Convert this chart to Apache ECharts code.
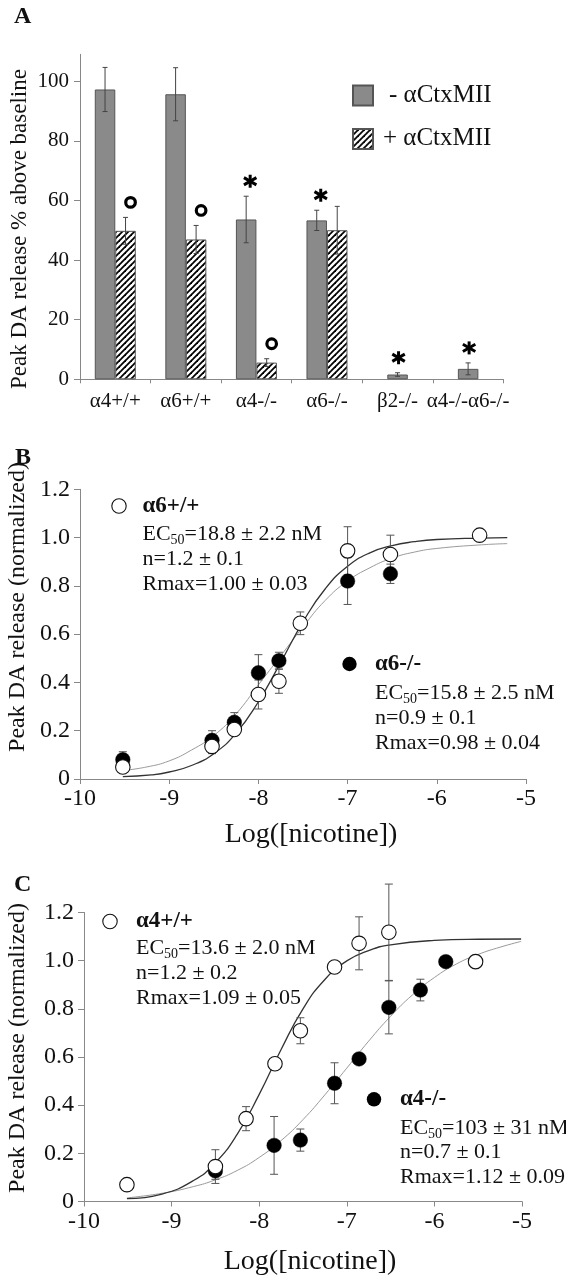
<!DOCTYPE html>
<html><head><meta charset="utf-8">
<script src="https://cdn.jsdelivr.net/npm/echarts@6/dist/echarts.min.js"></script>
<style>html,body{margin:0;padding:0;background:#fff}#c{width:566px;height:1280px}</style>
</head><body><div id="c"></div>
<script>
// ---------- Panel A data ----------
const categories = ['α4+/+', 'α6+/+', 'α4-/-', 'α6-/-', 'β2-/-', 'α4-/-α6-/-'];
const minusCtx = [97.2, 95.6, 53.6, 53.3, 1.6, 3.5];
const minusCtxErr = [7.4, 8.9, 7.8, 3.4, 0.6, 2.0];
const plusCtx = [49.8, 46.9, 5.6, 50.0, null, null];
const plusCtxErr = [4.5, 4.7, 1.3, 8.0, null, null];
const minusMarks = ['', '', '*', '*', '*', '*'];
const plusMarks = ['o', 'o', 'o', '', '', ''];
const yTicksA = [0, 20, 40, 60, 80, 100];
const seriesNamesA = ['- αCtxMII', '+ αCtxMII'];

// ---------- Panel B data (log[nicotine]) ----------
const bWtX = [-9.52, -8.52, -8.27, -8.0, -7.77, -7.53, -7.0, -6.52, -5.52];
const bWtY = [0.05, 0.135, 0.205, 0.35, 0.405, 0.645, 0.945, 0.93, 1.01];
const bWtErr = [0.01, 0.03, 0.01, 0.06, 0.05, 0.047, 0.10, 0.08, 0];
const bKoX = [-9.52, -8.52, -8.27, -8.0, -7.77, -7.0, -6.52];
const bKoY = [0.08, 0.16, 0.235, 0.44, 0.49, 0.82, 0.85];
const bKoErr = [0.033, 0.04, 0.04, 0.075, 0.035, 0.097, 0.04];
const bWtFitX = [-9.52, -9.2, -9.0, -8.75, -8.5, -8.25, -8.0, -7.75, -7.5, -7.25, -7.0, -6.75, -6.5, -6.25, -6.0, -5.5, -5.21];
const bWtFitY = [0.01, 0.017, 0.029, 0.056, 0.105, 0.19, 0.32, 0.483, 0.651, 0.788, 0.881, 0.937, 0.967, 0.983, 0.992, 0.998, 1.0];
const bKoFitX = [-9.52, -9.25, -9.0, -8.75, -8.5, -8.25, -8.0, -7.75, -7.5, -7.25, -7.0, -6.75, -6.5, -6.25, -6.0, -5.5, -5.21];
const bKoFitY = [0.035, 0.05, 0.075, 0.12, 0.18, 0.27, 0.39, 0.51, 0.63, 0.74, 0.82, 0.875, 0.915, 0.94, 0.955, 0.97, 0.975];

// ---------- Panel C data ----------
const cWtX = [-9.51, -8.5, -8.15, -7.82, -7.53, -7.14, -6.86, -6.52, -5.53];
const cWtY = [0.07, 0.145, 0.344, 0.572, 0.709, 0.974, 1.072, 1.118, 0.996];
const cWtErr = [0, 0.07, 0.05, 0, 0.054, 0, 0.11, 0.2, 0];
const cKoX = [-8.5, -7.83, -7.53, -7.14, -6.86, -6.52, -6.16, -5.87];
const cKoY = [0.127, 0.233, 0.255, 0.491, 0.592, 0.806, 0.878, 0.996];
const cKoErr = [0.035, 0.12, 0.046, 0.085, 0, 0.11, 0.045, 0];
const cWtFitX = [-9.51, -9.11, -8.75, -8.5, -8.25, -8.0, -7.75, -7.5, -7.25, -7.0, -6.75, -6.5, -6.0, -5.5, -5.01];
const cWtFitY = [0.012, 0.031, 0.087, 0.161, 0.28, 0.445, 0.631, 0.80, 0.922, 0.999, 1.042, 1.066, 1.084, 1.089, 1.09];
const cKoFitX = [-9.51, -9.11, -8.75, -8.5, -8.25, -8.0, -7.75, -7.5, -7.25, -7.0, -6.75, -6.5, -6.25, -6.0, -5.75, -5.5, -5.25, -5.01];
const cKoFitY = [0.015, 0.034, 0.062, 0.09, 0.129, 0.183, 0.253, 0.34, 0.443, 0.554, 0.666, 0.769, 0.858, 0.93, 0.986, 1.026, 1.056, 1.08];

const legendB = [
  { name: 'α6+/+', filled: false, stats: ['EC{s|50}=18.8 ± 2.2 nM', 'n=1.2 ± 0.1', 'Rmax=1.00 ± 0.03'] },
  { name: 'α6-/-', filled: true, stats: ['EC{s|50}=15.8 ± 2.5 nM', 'n=0.9 ± 0.1', 'Rmax=0.98 ± 0.04'] }
];
const legendC = [
  { name: 'α4+/+', filled: false, stats: ['EC{s|50}=13.6 ± 2.0 nM', 'n=1.2 ± 0.2', 'Rmax=1.09 ± 0.05'] },
  { name: 'α4-/-', filled: true, stats: ['EC{s|50}=103 ± 31 nM', 'n=0.7 ± 0.1', 'Rmax=1.12 ± 0.09'] }
];
const panelLabels = ['A', 'B', 'C'];
const yTitleA = 'Peak DA release % above baseline';
const yTitleBC = 'Peak DA release (normalized)';
const xTitleBC = 'Log([nicotine])';

// ---------- helpers ----------
const SERIF = 'Liberation Serif';
const BW = 20.5;
const zip = (a, b) => a.map((v, i) => [v, b[i]]);
const zip3 = (a, b, c) => a.map((v, i) => [v, b[i], c[i]]);

function hatchPattern() {
  const c = document.createElement('canvas');
  c.width = 6; c.height = 6;
  const g = c.getContext('2d');
  g.fillStyle = '#fff'; g.fillRect(0, 0, 6, 6);
  g.strokeStyle = '#000'; g.lineWidth = 1.8;
  [[-1, 7, 7, -1], [-1, 1, 1, -1], [5, 7, 7, 5]].forEach(l => {
    g.beginPath(); g.moveTo(l[0], l[1]); g.lineTo(l[2], l[3]); g.stroke();
  });
  return c;
}
const hatch = { image: hatchPattern(), repeat: 'repeat' };

function ln(x1, y1, x2, y2, color, w) {
  return { type: 'line', shape: { x1, y1, x2, y2 }, style: { stroke: color, lineWidth: w || 1 } };
}

// rows for panel A error bars & markers
const rowsA = [];
categories.forEach((c, i) => {
  const paired = plusCtx[i] != null;
  rowsA.push({ i, v: minusCtx[i], e: minusCtxErr[i], side: paired ? -1 : 0, mark: minusMarks[i] });
  if (paired) rowsA.push({ i, v: plusCtx[i], e: plusCtxErr[i], side: 1, mark: plusMarks[i] });
});

function renderErrA(params, api) {
  const r = rowsA[params.dataIndex];
  const base = api.coord([api.value(0), api.value(1)]);
  const x = base[0] + r.side * BW / 2;
  const top = api.coord([api.value(0), api.value(1) + api.value(2)])[1];
  const bot = api.coord([api.value(0), api.value(1) - api.value(2)])[1];
  const cap = 2.5, col = '#444';
  const ch = [ln(x, top, x, bot, col), ln(x - cap, top, x + cap, top, col), ln(x - cap, bot, x + cap, bot, col)];
  const cy = top - 15;
  if (r.mark === 'o') {
    ch.push({ type: 'circle', shape: { cx: x + 5, cy: cy, r: 4.8 }, style: { fill: 'none', stroke: '#000', lineWidth: 3.2 } });
  } else if (r.mark === '*') {
    const cx = x + (r.side === 0 ? 1 : 4);
    [90, 30, 150].forEach(a => {
      const rad = a * Math.PI / 180, h = a === 90 ? 6.5 : 7.2;
      ch.push({ type: 'line', shape: { x1: cx - h * Math.cos(rad), y1: cy - h * Math.sin(rad), x2: cx + h * Math.cos(rad), y2: cy + h * Math.sin(rad) }, style: { stroke: '#000', lineWidth: 3 } });
    });
  }
  return { type: 'group', children: ch };
}

function renderErrXY(params, api) {
  const e = api.value(2);
  if (!(e > 0)) return null;
  const x = api.value(0), y = api.value(1);
  const p = api.coord([x, y]);
  const t = api.coord([x, y + e])[1], b = api.coord([x, y - e])[1];
  const cap = 4, col = '#555';
  return { type: 'group', children: [ln(p[0], t, p[0], b, col), ln(p[0] - cap, t, p[0] + cap, t, col), ln(p[0] - cap, b, p[0] + cap, b, col)] };
}

const axisCol = '#888';
function logXAxis(gridIndex) {
  return {
    type: 'value', gridIndex, min: -10, max: -5, interval: 1,
    axisLine: { show: true, onZero: false, lineStyle: { color: axisCol } },
    axisTick: { show: true, length: 5, lineStyle: { color: axisCol } },
    axisLabel: { fontFamily: SERIF, fontSize: 24, color: '#111', margin: 8 },
    splitLine: { show: false }
  };
}
function normYAxis(gridIndex) {
  return {
    type: 'value', gridIndex, min: 0, max: 1.2, interval: 0.2,
    axisLine: { show: true, lineStyle: { color: axisCol } },
    axisTick: { show: true, length: 6, lineStyle: { color: axisCol } },
    axisLabel: { fontFamily: SERIF, fontSize: 24, color: '#111', margin: 10,
      formatter: v => (Math.abs(v) < 1e-9 ? '0' : v.toFixed(1)) },
    splitLine: { show: false }
  };
}

function curveSeries(xs, ys, xi, yi, color, w) {
  return { type: 'line', xAxisIndex: xi, yAxisIndex: yi, data: zip(xs, ys), smooth: 0.5,
    symbol: 'none', lineStyle: { color, width: w }, silent: true, z: 2 };
}
function errSeries(xs, ys, es, xi, yi) {
  return { type: 'custom', xAxisIndex: xi, yAxisIndex: yi, data: zip3(xs, ys, es), renderItem: renderErrXY,
    encode: { x: 0, y: 1 }, clip: false, silent: true, z: 3 };
}
function pointSeries(xs, ys, xi, yi, filled, z) {
  return { type: 'scatter', xAxisIndex: xi, yAxisIndex: yi, data: zip(xs, ys), symbol: 'circle', symbolSize: 14.5,
    itemStyle: filled ? { color: '#000', borderColor: '#000', borderWidth: 0.5, opacity: 1 } : { color: '#fff', borderColor: '#111', borderWidth: 1.1, opacity: 1 },
    silent: true, z };
}

// ---------- graphic text ----------
function txt(x, y, text, extra) {
  return { type: 'text', x, y, silent: true, z: 50,
    style: Object.assign({ text, fontFamily: SERIF, fontSize: 22, fill: '#111', align: 'left', verticalAlign: 'middle' }, extra || {}) };
}
const graphics = [];
const labelPos = [[14, 17], [15, 458], [14, 885]];
panelLabels.forEach((l, k) => graphics.push(txt(labelPos[k][0], labelPos[k][1], l, { fontWeight: 'bold', fontSize: 24 })));
graphics.push(Object.assign(txt(20, 229, yTitleA, { fontSize: 23, align: 'center' }), { rotation: Math.PI / 2 }));
graphics.push(Object.assign(txt(18, 607, yTitleBC, { fontSize: 24, align: 'center' }), { rotation: Math.PI / 2 }));
graphics.push(Object.assign(txt(18, 1048, yTitleBC, { fontSize: 24, align: 'center' }), { rotation: Math.PI / 2 }));
graphics.push(txt(311, 835, xTitleBC, { fontSize: 28, align: 'center' }));
graphics.push(txt(310, 1262, xTitleBC, { fontSize: 28, align: 'center' }));

function legendBlock(item, cx, cy, tx, lineYs) {
  graphics.push({ type: 'circle', shape: { cx, cy, r: 7.2 }, silent: true, z: 50,
    style: item.filled ? { fill: '#000' } : { fill: '#fff', stroke: '#111', lineWidth: 1.1 } });
  graphics.push(txt(tx, cy, item.name, { fontWeight: 'bold', fontSize: 23 }));
  item.stats.forEach((s, k) => graphics.push(txt(tx, lineYs[k], s, {
    rich: { s: { fontFamily: SERIF, fontSize: 14, fill: '#111', verticalAlign: 'bottom', lineHeight: 26 } }
  })));
}
legendBlock(legendB[0], 119, 506, 142.5, [534.3, 559, 584]);
legendBlock(legendB[1], 349.5, 664, 375, [693.5, 718.5, 743]);
legendBlock(legendC[0], 110, 921.5, 136, [948, 973, 998]);
legendBlock(legendC[1], 374, 1099.3, 400, [1128, 1152.7, 1177.3]);

// ---------- option ----------
const option = {
  backgroundColor: '#fff',
  animation: false,
  grid: [
    { left: 80, top: 54.3, width: 423.4, height: 325 },
    { left: 80, top: 489.3, width: 446, height: 289.7 },
    { left: 84, top: 912.5, width: 438, height: 289 }
  ],
  legend: {
    orient: 'vertical', left: 352, top: 83, padding: 0, itemWidth: 20, itemHeight: 20, itemGap: 18.4, icon: 'rect',
    selectedMode: false,
    data: [{ name: seriesNamesA[0], textStyle: { padding: [0, 0, 0, 11] } }, { name: seriesNamesA[1], textStyle: { padding: [0, 0, 0, 5] } }],
    textStyle: { fontFamily: SERIF, fontSize: 25, color: '#111', lineHeight: 20 }
  },
  xAxis: [
    { type: 'category', gridIndex: 0, data: categories,
      axisLine: { show: true, lineStyle: { color: axisCol } },
      axisTick: { show: true, length: 4, lineStyle: { color: axisCol } },
      axisLabel: { fontFamily: SERIF, fontSize: 21, color: '#111', margin: 12, interval: 0 } },
    { type: 'category', gridIndex: 0, data: categories, show: false },
    logXAxis(1), logXAxis(2)
  ],
  yAxis: [
    { type: 'value', gridIndex: 0, min: 0, max: 109, interval: 20,
      axisLine: { show: true, lineStyle: { color: axisCol } },
      axisTick: { show: true, length: 6, customValues: yTicksA, lineStyle: { color: axisCol } },
      axisLabel: { fontFamily: SERIF, fontSize: 21, color: '#111', margin: 11, customValues: yTicksA },
      splitLine: { show: false } },
    normYAxis(1), normYAxis(2)
  ],
  series: [
    { name: seriesNamesA[0], type: 'bar', xAxisIndex: 0, yAxisIndex: 0, barWidth: BW, barGap: '0%',
      data: minusCtx.map((v, i) => (plusCtx[i] != null ? v : null)),
      itemStyle: { color: '#8a8a8a', borderColor: '#555', borderWidth: 1 }, silent: true },
    { name: seriesNamesA[1], type: 'bar', xAxisIndex: 0, yAxisIndex: 0, barWidth: BW, barGap: '0%',
      data: plusCtx, itemStyle: { color: hatch, borderColor: '#555', borderWidth: 1 }, silent: true },
    { name: seriesNamesA[0], type: 'bar', xAxisIndex: 1, yAxisIndex: 0, barWidth: BW,
      data: minusCtx.map((v, i) => (plusCtx[i] == null ? v : null)),
      itemStyle: { color: '#8a8a8a', borderColor: '#555', borderWidth: 1 }, silent: true },
    { type: 'custom', xAxisIndex: 0, yAxisIndex: 0, data: rowsA.map(r => [r.i, r.v, r.e, r.side]),
      renderItem: renderErrA, encode: { x: 0, y: 1 }, clip: false, silent: true, z: 5 },

    curveSeries(bKoFitX, bKoFitY, 2, 1, '#9a9a9a', 1),
    curveSeries(bWtFitX, bWtFitY, 2, 1, '#333', 1.3),
    errSeries(bKoX, bKoY, bKoErr, 2, 1),
    errSeries(bWtX, bWtY, bWtErr, 2, 1),
    pointSeries(bKoX, bKoY, 2, 1, true, 4),
    pointSeries(bWtX, bWtY, 2, 1, false, 5),

    curveSeries(cKoFitX, cKoFitY, 3, 2, '#9a9a9a', 1),
    curveSeries(cWtFitX, cWtFitY, 3, 2, '#333', 1.3),
    errSeries(cKoX, cKoY, cKoErr, 3, 2),
    errSeries(cWtX, cWtY, cWtErr, 3, 2),
    pointSeries(cKoX, cKoY, 3, 2, true, 4),
    pointSeries(cWtX, cWtY, 3, 2, false, 5)
  ],
  graphic: graphics
};

const chart = echarts.init(document.getElementById('c'), null, { renderer: 'canvas', width: 566, height: 1280 });
chart.setOption(option);
</script>
</body></html>
